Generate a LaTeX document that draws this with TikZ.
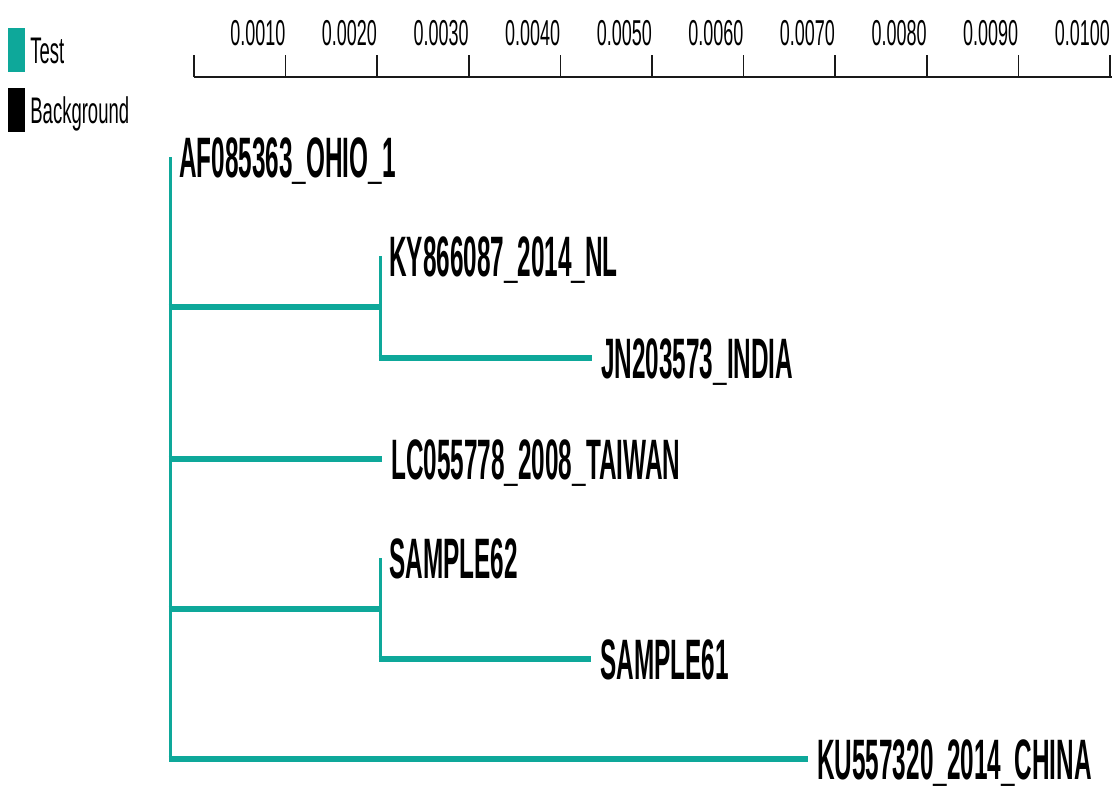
\documentclass[tikz,border=0pt]{standalone}
\usepackage{fontspec}
\setmainfont{Liberation Sans}
\usepackage{tikz}
\usetikzlibrary{positioning, calc}
\definecolor{treeteal}{RGB}{14,168,154}
\definecolor{scalegray}{RGB}{25,25,25}
\newcommand{\leafname}[1]{\scalebox{0.427}[1]{#1}}
\newcommand{\thinname}[1]{\scalebox{0.5}[1]{#1}}
\tikzset{
  %% ---- labels ----
  leaf/.style    = {anchor=west, inner xsep=9pt, inner ysep=0pt,
                    text height=41pt, text depth=0pt,
                    font=\fontsize{57pt}{60pt}\selectfont\bfseries},
  ticklab/.style = {anchor=base east, inner sep=0pt,
                    font=\fontsize{36pt}{40pt}\selectfont},
  legtext/.style = {inner sep=0pt, text height=26pt, text depth=0pt,
                    font=\fontsize{37pt}{40pt}\selectfont},
  legbox/.style  = {rectangle, inner sep=0pt, minimum width=17pt,
                    minimum height=44pt, fill=#1},
  %% ---- lines ----
  hbranch/.style   = {line width=6pt, color=treeteal, shorten <=-1.5pt},
  vbranch/.style   = {line width=3pt, color=treeteal},
  scaleline/.style = {line width=2.5pt, color=scalegray},
  tickmark/.style  = {line width=1.5pt, color=scalegray},
}

\begin{document}
\begin{tikzpicture}[x=1pt, y=-1pt]
  \useasboundingbox (0,0) rectangle (1112,793);

  %% Legend
  \node[legbox=treeteal] (ktest) at (16.5,50) {};
  \node[legtext, right=5pt of ktest] (ltest) {\thinname{Test}};
  \node[legbox=black] (kback) at (16.5,110) {};
  \node[legtext, right=5pt of kback] (lback) {\thinname{Background}};

  %% Scale bar
  \coordinate (axL) at (194,77);
  \coordinate (axR) at (1112,77);
  \draw[scaleline] (axL) -- (axR);
  \draw[tickmark] (axL) -- ++(0,-22);
  \foreach \i/\lab in {1/0.0010, 2/0.0020, 3/0.0030, 4/0.0040, 5/0.0050,
                       6/0.0060, 7/0.0070, 8/0.0080, 9/0.0090, 10/0.0100} {
    \draw[tickmark] ($(axL)+(\i*91.6,0)$) -- ++(0,-22);
    \node[ticklab] (tl\i) at ($(axL)+(\i*91.6,-32)$) {\thinname{\lab}};
  }

  %% Leaves
  \node[leaf] (ohio) at (170,157) {\leafname{AF085363\_OHIO\_1}};
  \node[leaf] (ky)   at (380,256) {\leafname{KY866087\_2014\_NL}};
  \node[leaf] (jn)   at (592,358) {\leafname{JN203573\_INDIA}};
  \node[leaf] (lc)   at (382,459) {\leafname{LC055778\_2008\_TAIWAN}};
  \node[leaf] (s62)  at (380,558) {\leafname{SAMPLE62}};
  \node[leaf] (s61)  at (591,659) {\leafname{SAMPLE61}};
  \node[leaf] (ku)   at (808,759) {\leafname{KU557320\_2014\_CHINA}};

  %% Inner nodes
  \coordinate (ca) at ($(ky.west)!0.5!(ky.west |- jn.west)$);
  \coordinate (cb) at ($(s62.west)!0.5!(s62.west |- s61.west)$);

  %% Branches
  \draw[vbranch] (ohio.west) -- (ohio.west |- ku.west);
  \draw[vbranch] (ky.west) -- (ky.west |- jn.west);
  \draw[vbranch] (s62.west) -- (s62.west |- s61.west);
  \draw[hbranch] (ohio.west |- ca) -- (ca);
  \draw[hbranch] (ky.west |- jn.west) -- (jn.west);
  \draw[hbranch] (ohio.west |- lc.west) -- (lc.west);
  \draw[hbranch] (ohio.west |- cb) -- (cb);
  \draw[hbranch] (s62.west |- s61.west) -- (s61.west);
  \draw[hbranch] (ohio.west |- ku.west) -- (ku.west);

\end{tikzpicture}
\end{document}
